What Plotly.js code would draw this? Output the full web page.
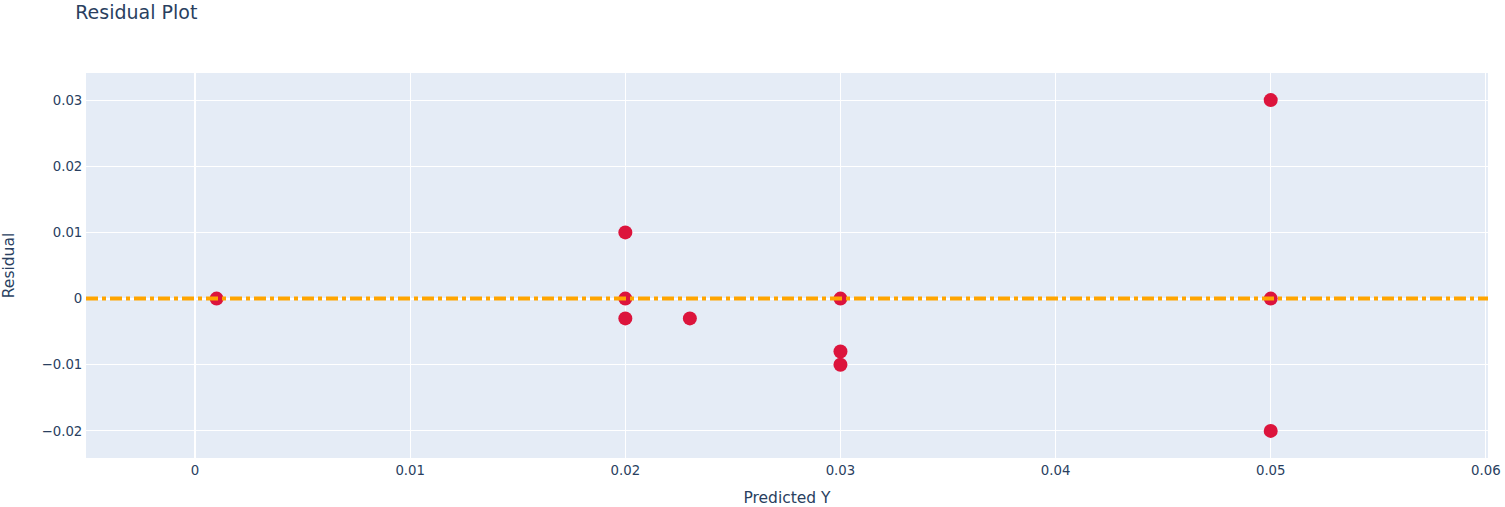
<!DOCTYPE html>
<html>
<head>
<meta charset="utf-8">
<script src="https://cdn.plot.ly/plotly-3.0.1.min.js"></script>
<style>html,body{margin:0;padding:0;background:#fff;}#chart{width:1505px;height:507px;}</style>
</head>
<body>
<div id="chart"></div>
<script>
const predicted = [0.001, 0.02, 0.02, 0.02, 0.023, 0.03, 0.03, 0.03, 0.05, 0.05, 0.05];
const residuals = [0, 0.01, 0, -0.003, -0.003, 0, -0.008, -0.01, 0.03, 0, -0.02];
const refLevel = 0;

const traces = [{
  type: 'scatter',
  mode: 'markers',
  x: predicted,
  y: residuals,
  marker: {color: 'crimson', size: 14},
  showlegend: false
}];

const layout = {
  width: 1505, height: 507,
  margin: {l: 86, r: 17, t: 73, b: 49},
  paper_bgcolor: '#fff',
  plot_bgcolor: '#E5ECF6',
  font: {family: '"DejaVu Sans", Verdana, sans-serif', size: 13.3, color: '#2a3f5f'},
  title: {text: 'Residual Plot', x: 0.05, xanchor: 'left', y: 0.976, yanchor: 'middle', font: {size: 19, color: '#2a3f5f'}},
  xaxis: {
    title: {text: 'Predicted Y', font: {size: 15.5}},
    range: [-0.00507, 0.0601],
    dtick: 0.01,
    gridcolor: 'white', zerolinecolor: 'white', zerolinewidth: 2,
    linecolor: 'white', ticks: '', automargin: false
  },
  yaxis: {
    title: {text: 'Residual', font: {size: 15.5}, standoff: 36},
    range: [-0.0241, 0.0341],
    dtick: 0.01,
    gridcolor: 'white', zerolinecolor: 'white', zerolinewidth: 2,
    linecolor: 'white', ticks: '', automargin: false
  },
  shapes: [{
    type: 'line', xref: 'paper', yref: 'y',
    x0: 0, x1: 1, y0: refLevel, y1: refLevel,
    line: {color: 'orange', width: 4, dash: 'dashdot'},
    layer: 'above'
  }]
};

Plotly.newPlot('chart', traces, layout, {displayModeBar: false});
</script>
</body>
</html>
